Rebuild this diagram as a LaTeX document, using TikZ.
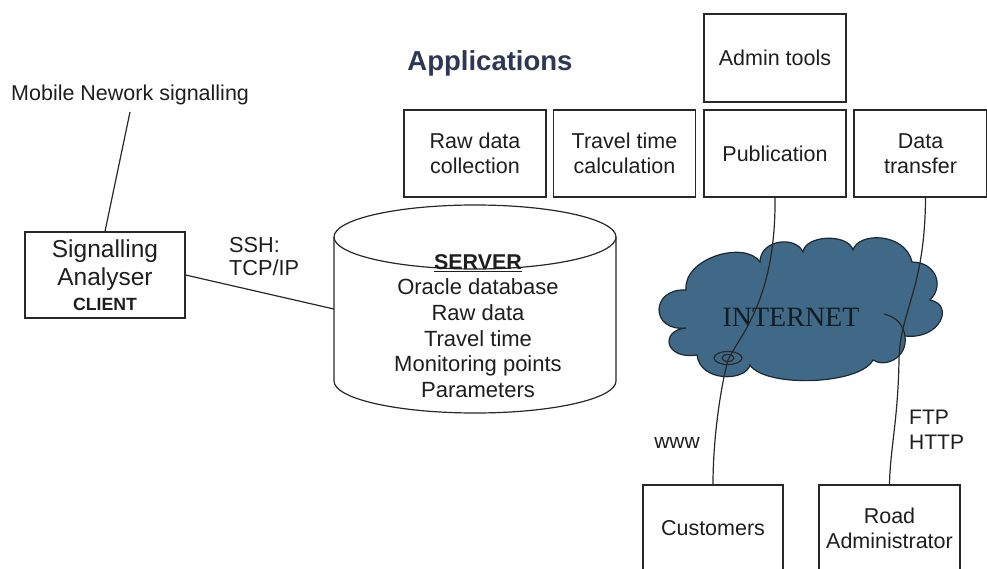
\documentclass[tikz,border=0pt]{standalone}
\usepackage{fontspec}
\setmainfont{Liberation Sans}
\newfontfamily\inetfont{Liberation Serif}
\usetikzlibrary{calc}

\definecolor{linec}{RGB}{40,40,40}
\definecolor{txt}{RGB}{30,30,30}
\definecolor{headc}{RGB}{46,56,86}
\definecolor{cloudfill}{RGB}{64,105,135}
\definecolor{cloudline}{RGB}{28,40,50}
\definecolor{inettxt}{RGB}{18,28,36}

\tikzset{
  appbox/.style={draw=linec, line width=1.2pt, minimum width=142pt, minimum height=87pt,
    align=center, inner sep=0pt, text=txt, font=\fontsize{21.5}{25}\selectfont},
  conn/.style={draw=linec, line width=1.2pt},
  lbl/.style={inner sep=0pt, text=txt, font=\fontsize{21.5}{25}\selectfont}
}

\begin{document}
\begin{tikzpicture}[x=1pt,y=-1pt]
\useasboundingbox (0,0) rectangle (987,569);
\clip (0,0) rectangle (987,569);

% ---------- client side ----------
\node[lbl, anchor=west] (mob) at (11,95) {Mobile Nework signalling};
\node[appbox, minimum width=160pt, minimum height=86pt,
      font=\fontsize{24.5}{28}\selectfont] (sig) at (105,275)
  {Signalling\\Analyser\\[-3pt]{\bfseries\fontsize{17.7}{20}\selectfont CLIENT}};
\coordinate (mobend) at (130,112);
\draw[conn] (mobend) -- (sig.north);

\node[lbl, anchor=west, align=left, font=\fontsize{21.7}{23}\selectfont] (ssh) at (229,257) {SSH:\\TCP/IP};

% ---------- server cylinder ----------
\node[minimum width=282pt, minimum height=208pt, inner sep=0pt] (srv) at (475,309) {};
\draw[conn, fill=white] (334,237) -- (334,381)
  arc[start angle=180, end angle=0, x radius=141, y radius=32] -- (616,237);
\draw[conn] (475,237) ellipse[x radius=141, y radius=32];
\node[lbl, align=center, font=\fontsize{22}{25.6}\selectfont] (srvtxt) at (478,326)
  {\underline{\bfseries\fontsize{21.4}{25.6}\selectfont SERVER}\\Oracle database\\Raw data\\Travel time\\Monitoring points\\Parameters};
\draw[conn] (sig.east) -- (srv.west);

% ---------- applications ----------
\node[inner sep=0pt, text=headc, font=\bfseries\fontsize{27.5}{30}\selectfont] (apps) at (490,63) {Applications};
\node[appbox] (raw) at (475,153.5) {Raw data\\collection};
\node[appbox] (trav) at (624.5,153.5) {Travel time\\calculation};
\node[appbox] (pub) at (775,153.5) {Publication};
\node[appbox, minimum height=88pt] (adm) at (775,58) {Admin tools};
\node[appbox, minimum width=133pt] (dt) at (920.5,153.5) {Data\\transfer};

% ---------- internet cloud ----------
\path[fill=cloudfill, draw=cloudline, line width=1.2pt]
  (686,290) .. controls (683,258) and (745,240) .. (760,262)
  .. controls (760,240) and (795,235) .. (803,252)
  .. controls (805,235) and (848,233) .. (853,250)
  .. controls (858,232) and (905,232) .. (912,262)
  .. controls (935,262) and (945,285) .. (930,300)
  .. controls (955,305) and (940,340) .. (905,336)
  .. controls (908,358) and (885,368) .. (873,360)
  .. controls (860,385) and (765,388) .. (750,365)
  .. controls (745,382) and (700,382) .. (697,355)
  .. controls (664,360) and (660,330) .. (686,328)
  .. controls (650,332) and (650,288) .. (686,290) -- cycle;
\node[inner sep=0pt, text=inettxt, font=\inetfont\fontsize{28}{30}\selectfont] (inet) at (791,317) {INTERNET};

% ---------- user side ----------
\node[appbox, minimum width=140pt] (cust) at (713,528.5) {Customers};
\node[appbox, minimum width=141pt] (road) at (889.5,528.5) {Road\\Administrator};

\draw[conn] (pub.south) .. controls (776,300) and (740,335) .. (728,360)
  .. controls (720,390) and (713,440) .. (cust.north);
\draw[conn] (728,358) ellipse[x radius=14, y radius=6.5];
\draw[conn] (728,358) ellipse[x radius=6, y radius=3.5];

\draw[conn] ($(dt.south)+(5,0)$) .. controls (925,290) and (900,310) .. (899,360)
  .. controls (898,420) and (890,450) .. (road.north);
\coordinate (hook) at (884,314);
\draw[conn] (hook) .. controls (896,317) and (903,324) .. (905,336);

\node[lbl, font=\fontsize{21}{25}\selectfont] (www) at (677,443) {www};
\node[lbl, anchor=west, align=left, font=\fontsize{21}{25}\selectfont] (ftp) at (909,430) {FTP\\HTTP};
\end{tikzpicture}
\end{document}
